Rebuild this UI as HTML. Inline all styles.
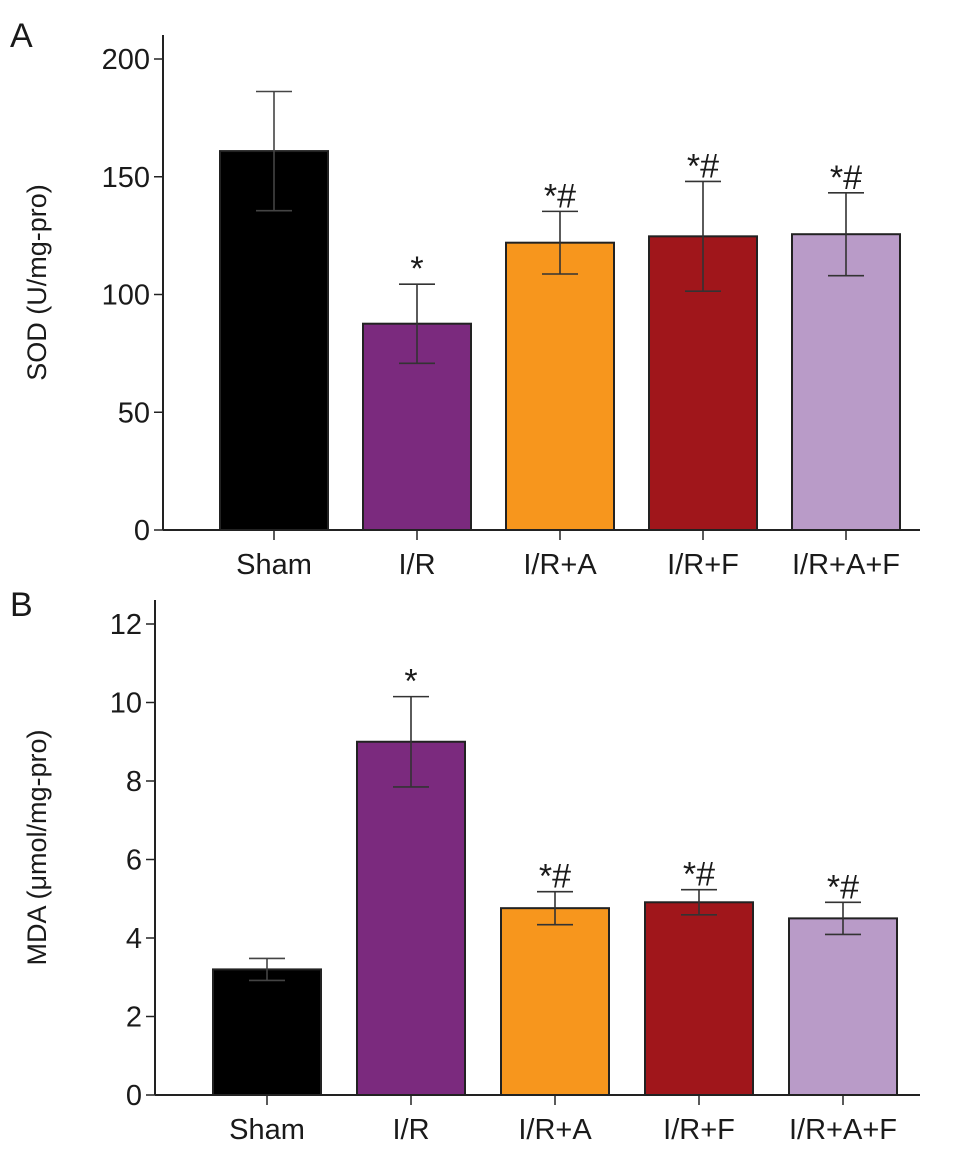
<!DOCTYPE html>
<html><head><meta charset="utf-8"><style>
body{margin:0;background:#fff;}
svg text{font-family:"Liberation Sans",Arial,sans-serif;fill:#1a1a1a;}
</style></head><body>
<svg id="chart" width="969" height="1162" viewBox="0 0 969 1162" xmlns="http://www.w3.org/2000/svg"></svg>
<script>
const categories = ["Sham","I/R","I/R+A","I/R+F","I/R+A+F"];
const colors = ["#000000","#7b2a7e","#f7961d","#a0161b","#b99bc8"];
const sodValues = [160.9, 87.6, 122, 124.7, 125.6];
const sodErrors = [25.3, 16.8, 13.3, 23.3, 17.6];
const sodMarks = ["", "*", "*#", "*#", "*#"];
const sodTicks = [0, 50, 100, 150, 200];
const mdaValues = [3.2, 9.0, 4.76, 4.91, 4.50];
const mdaErrors = [0.28, 1.15, 0.42, 0.32, 0.41];
const mdaMarks = ["", "*", "*#", "*#", "*#"];
const mdaTicks = [0, 2, 4, 6, 8, 10, 12];

const svg = document.getElementById('chart');
const NS = "http://www.w3.org/2000/svg";
function mk(tag, attrs, text){
  const e = document.createElementNS(NS, tag);
  for (const k in attrs) e.setAttribute(k, attrs[k]);
  if (text !== undefined) e.textContent = text;
  svg.appendChild(e);
  return e;
}

function panel(p){
  const y = v => p.y0 - (v - p.vmin) / (p.vmax - p.vmin) * (p.y0 - p.ymaxPx);
  const x = i => p.barStart + i * p.step;
  let e;
  e = mk('text', {x: 10, y: p.letterY, 'font-size': 34}, p.letter);
  
  
  e = mk('line', {x1: p.ax, y1: p.axisTop, x2: p.ax, y2: p.y0, stroke: '#222', 'stroke-width': 2});
  
  
  e = mk('line', {x1: p.ax, y1: p.y0, x2: p.axRight, y2: p.y0, stroke: '#222', 'stroke-width': 2});
  
  
  p.ticks.forEach(t => {
    const ty = y(t);
    let l = mk('line', {x1: p.ax - 9, y1: ty, x2: p.ax, y2: ty, stroke: '#222', 'stroke-width': 1.5});
    
    
    let tx = mk('text', {x: p.ax - 13, y: ty + 10, 'font-size': 29, 'text-anchor': 'end'}, String(t));
    
    
  });
  e = mk('text', {x: 0, y: 0, 'font-size': 27, 'text-anchor': 'middle',
    transform: `translate(${p.titleX},${(p.axisTop + p.y0) / 2}) rotate(-90)`}, p.title);
  
  
  categories.forEach((c, i) => {
    const bx = x(i), cx = bx + p.bw / 2;
    const top = y(p.values[i]);
    let r = mk('rect', {x: bx, y: top, width: p.bw, height: p.y0 - top, fill: colors[i], stroke: '#222', 'stroke-width': 2});
    
    
    const eh = y(p.values[i] + p.errors[i]), el = y(p.values[i] - p.errors[i]);
    let g = mk('path', {d: `M${cx},${eh}V${el}M${cx-18},${eh}H${cx+18}M${cx-18},${el}H${cx+18}`, stroke: i === 0 ? '#444' : '#333', 'stroke-width': 1.6, fill: 'none'});
    
    
    let tk = mk('line', {x1: cx, y1: p.y0, x2: cx, y2: p.y0 + 10, stroke: '#222', 'stroke-width': 1.5});
    
    
    let lb = mk('text', {x: cx, y: p.y0 + 44, 'font-size': 29, 'text-anchor': 'middle'}, c);
    
    
    if (p.marks[i]) {
      let m = mk('text', {x: cx, y: eh - 4, 'font-size': 34, 'text-anchor': 'middle'}, p.marks[i]);
      
      
    }
  });
}

panel({key: 'sod', letter: 'A', letterY: 47, ax: 163, axRight: 920, axisTop: 35, y0: 530, ymaxPx: 59,
  vmin: 0, vmax: 200, ticks: sodTicks, values: sodValues, errors: sodErrors, marks: sodMarks,
  barStart: 220, step: 143, bw: 108, title: 'SOD (U/mg-pro)', titleX: 46});
panel({key: 'mda', letter: 'B', letterY: 616, ax: 155, axRight: 920, axisTop: 600, y0: 1095, ymaxPx: 624,
  vmin: 0, vmax: 12, ticks: mdaTicks, values: mdaValues, errors: mdaErrors, marks: mdaMarks,
  barStart: 213, step: 144, bw: 108, title: 'MDA (μmol/mg-pro)', titleX: 46});
</script>
</body></html>
